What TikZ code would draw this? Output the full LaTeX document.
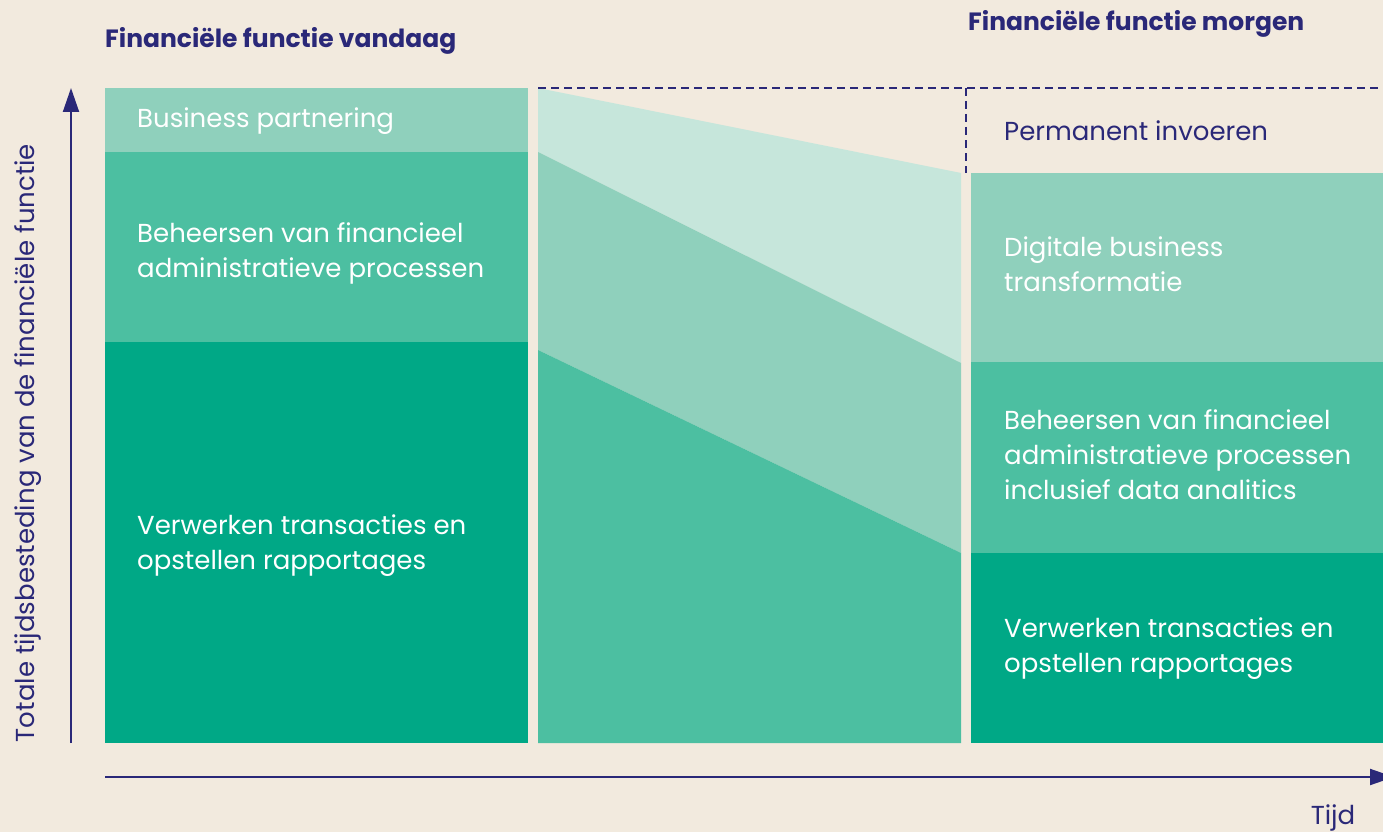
\documentclass[tikz,border=0pt]{standalone}
\usepackage{fontspec}
\setmainfont{Poppins}
\usetikzlibrary{arrows.meta}
\definecolor{bg}{HTML}{F2EADE}
\definecolor{navy}{HTML}{2A2878}
\definecolor{gA}{HTML}{8FD0BC}
\definecolor{gB}{HTML}{4CBFA1}
\definecolor{gC}{HTML}{00A886}
\definecolor{gL}{HTML}{C6E6DB}
\tikzset{
  lbl/.style={anchor=west,align=left,text=white,inner sep=0pt,yshift=-3pt,font=\fontsize{26}{35}\selectfont},
  navylbl/.style={anchor=west,align=left,text=navy,inner sep=0pt,font=\fontsize{26}{35}\selectfont},
  ttl/.style={anchor=base west,text=navy,inner sep=0pt,font=\fontsize{25}{28}\selectfont\bfseries},
  axisline/.style={draw=navy,line width=2pt,-{Triangle[length=24pt,width=16pt]}},
  dashline/.style={draw=navy,line width=2pt,dash pattern=on 8pt off 5pt}
}
\begin{document}
\begin{tikzpicture}[x=1pt,y=-1pt]
\useasboundingbox (0,0) rectangle (1383,832);
\fill[bg] (0,0) rectangle (1383,832);
% left column
\fill[gA] (105,88) rectangle (528,152);
\fill[gB] (105,152) rectangle (528,342);
\fill[gC] (105,342) rectangle (528,743);
% middle transition
\fill[gL] (538,88) -- (961,173) -- (961,363) -- (538,152) -- cycle;
\fill[gA] (538,152) -- (961,363) -- (961,553) -- (538,350) -- cycle;
\fill[gB] (538,350) -- (961,553) -- (961,743) -- (538,743) -- cycle;
% right column
\fill[gA] (971,173) rectangle (1383,362);
\fill[gB] (971,362) rectangle (1383,553);
\fill[gC] (971,553) rectangle (1383,743);
% dashed frame
\coordinate (dl) at (538,88);
\coordinate (dr) at (1383,88);
\coordinate (dt) at (966,88);
\coordinate (db) at (966,173);
\draw[dashline] (dl) -- (dr);
\draw[dashline] (dt) -- (db);
% axes
\coordinate (yb) at (71,743);
\coordinate (yt) at (71,88);
\coordinate (xl) at (105,777);
\coordinate (xr) at (1394,777);
\draw[axisline] (yb) -- (yt);
\draw[axisline] (xl) -- (xr);
% titles
\node[ttl] (t1) at (105,48) {Financiële functie vandaag};
\node[ttl] (t2) at (968,31) {Financiële functie morgen};
% axis labels
\node[navylbl,anchor=center,rotate=90] (ylab) at (28,443) {Totale tijdsbesteding van de financiële functie};
\node[navylbl,anchor=center] (xlab) at (1333,818) {Tijd};
% left labels
\node[lbl] (l1) at (137,118) {Business partnering};
\node[lbl] (l2) at (137,250) {Beheersen van financieel\\administratieve processen};
\node[lbl] (l3) at (137,543) {Verwerken transacties en\\opstellen rapportages};
% right labels
\node[navylbl] (r0) at (1004,131) {Permanent invoeren};
\node[lbl] (r1) at (1004,261) {Digitale business\\transformatie};
\node[lbl] (r2) at (1004,452) {Beheersen van financieel\\administratieve processen\\inclusief data analitics};
\node[lbl] (r3) at (1004,646) {Verwerken transacties en\\opstellen rapportages};
\end{tikzpicture}
\end{document}
